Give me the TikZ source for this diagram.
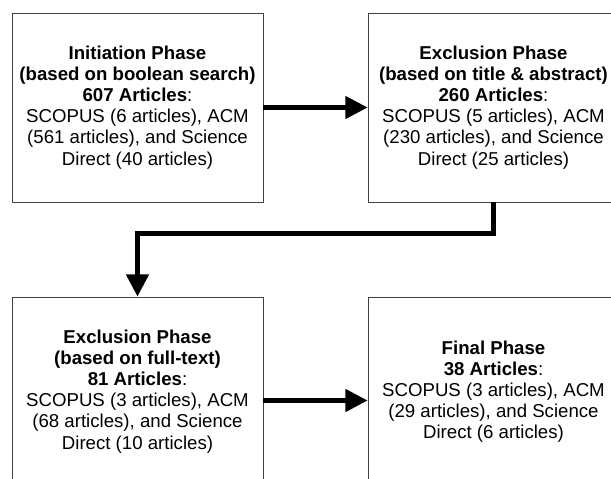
\documentclass[tikz,border=0pt]{standalone}
\usepackage{fontspec}
\setmainfont{Liberation Sans}
\usetikzlibrary{arrows.meta}
\begin{document}
\begin{tikzpicture}[x=0.03cm, y=-0.03cm, font=\fontsize{15.9}{18}\selectfont, line join=round, >={Triangle[length=19pt,width=19pt]}]
	\tikzset{phase/.style={draw=black!75, line width=0.8pt, minimum width=7.53cm, minimum height=5.67cm, inner sep=0pt, align=center},
		flow/.style={->, line width=3.6pt, line join=miter}}
	\useasboundingbox (0,0) rectangle (611,479);
	\node[phase] (init) at (137.5,107.5) {\textbf{Initiation Phase}\\ \textbf{(based on boolean search)}\\ \textbf{607 Articles}:\\ SCOPUS (6 articles), ACM\\ (561 articles), and Science\\ Direct (40 articles)};
	\node[phase] (title) at (493.5,107.5) {\textbf{Exclusion Phase}\\ \textbf{(based on title \& abstract)}\\ \textbf{260 Articles}:\\ SCOPUS (5 articles), ACM\\ (230 articles), and Science\\ Direct (25 articles)};
	\node[phase] (full) at (137.5,391.5) {\textbf{Exclusion Phase}\\ \textbf{(based on full-text)}\\ \textbf{81 Articles}:\\ SCOPUS (3 articles), ACM\\ (68 articles), and Science\\ Direct (10 articles)};
	\node[phase] (final) at (493.5,391.5) {\textbf{Final Phase}\\ \textbf{38 Articles}:\\ SCOPUS (3 articles), ACM\\ (29 articles), and Science\\ Direct (6 articles)};
	\draw [flow] (init.east)--(title.west);
	\draw [flow] (title.south)--++(0,31)-|(full.north);
	\draw [flow] ([yshift=-0.27cm]full.east)--([yshift=-0.27cm]final.west);
\end{tikzpicture}
\end{document}
